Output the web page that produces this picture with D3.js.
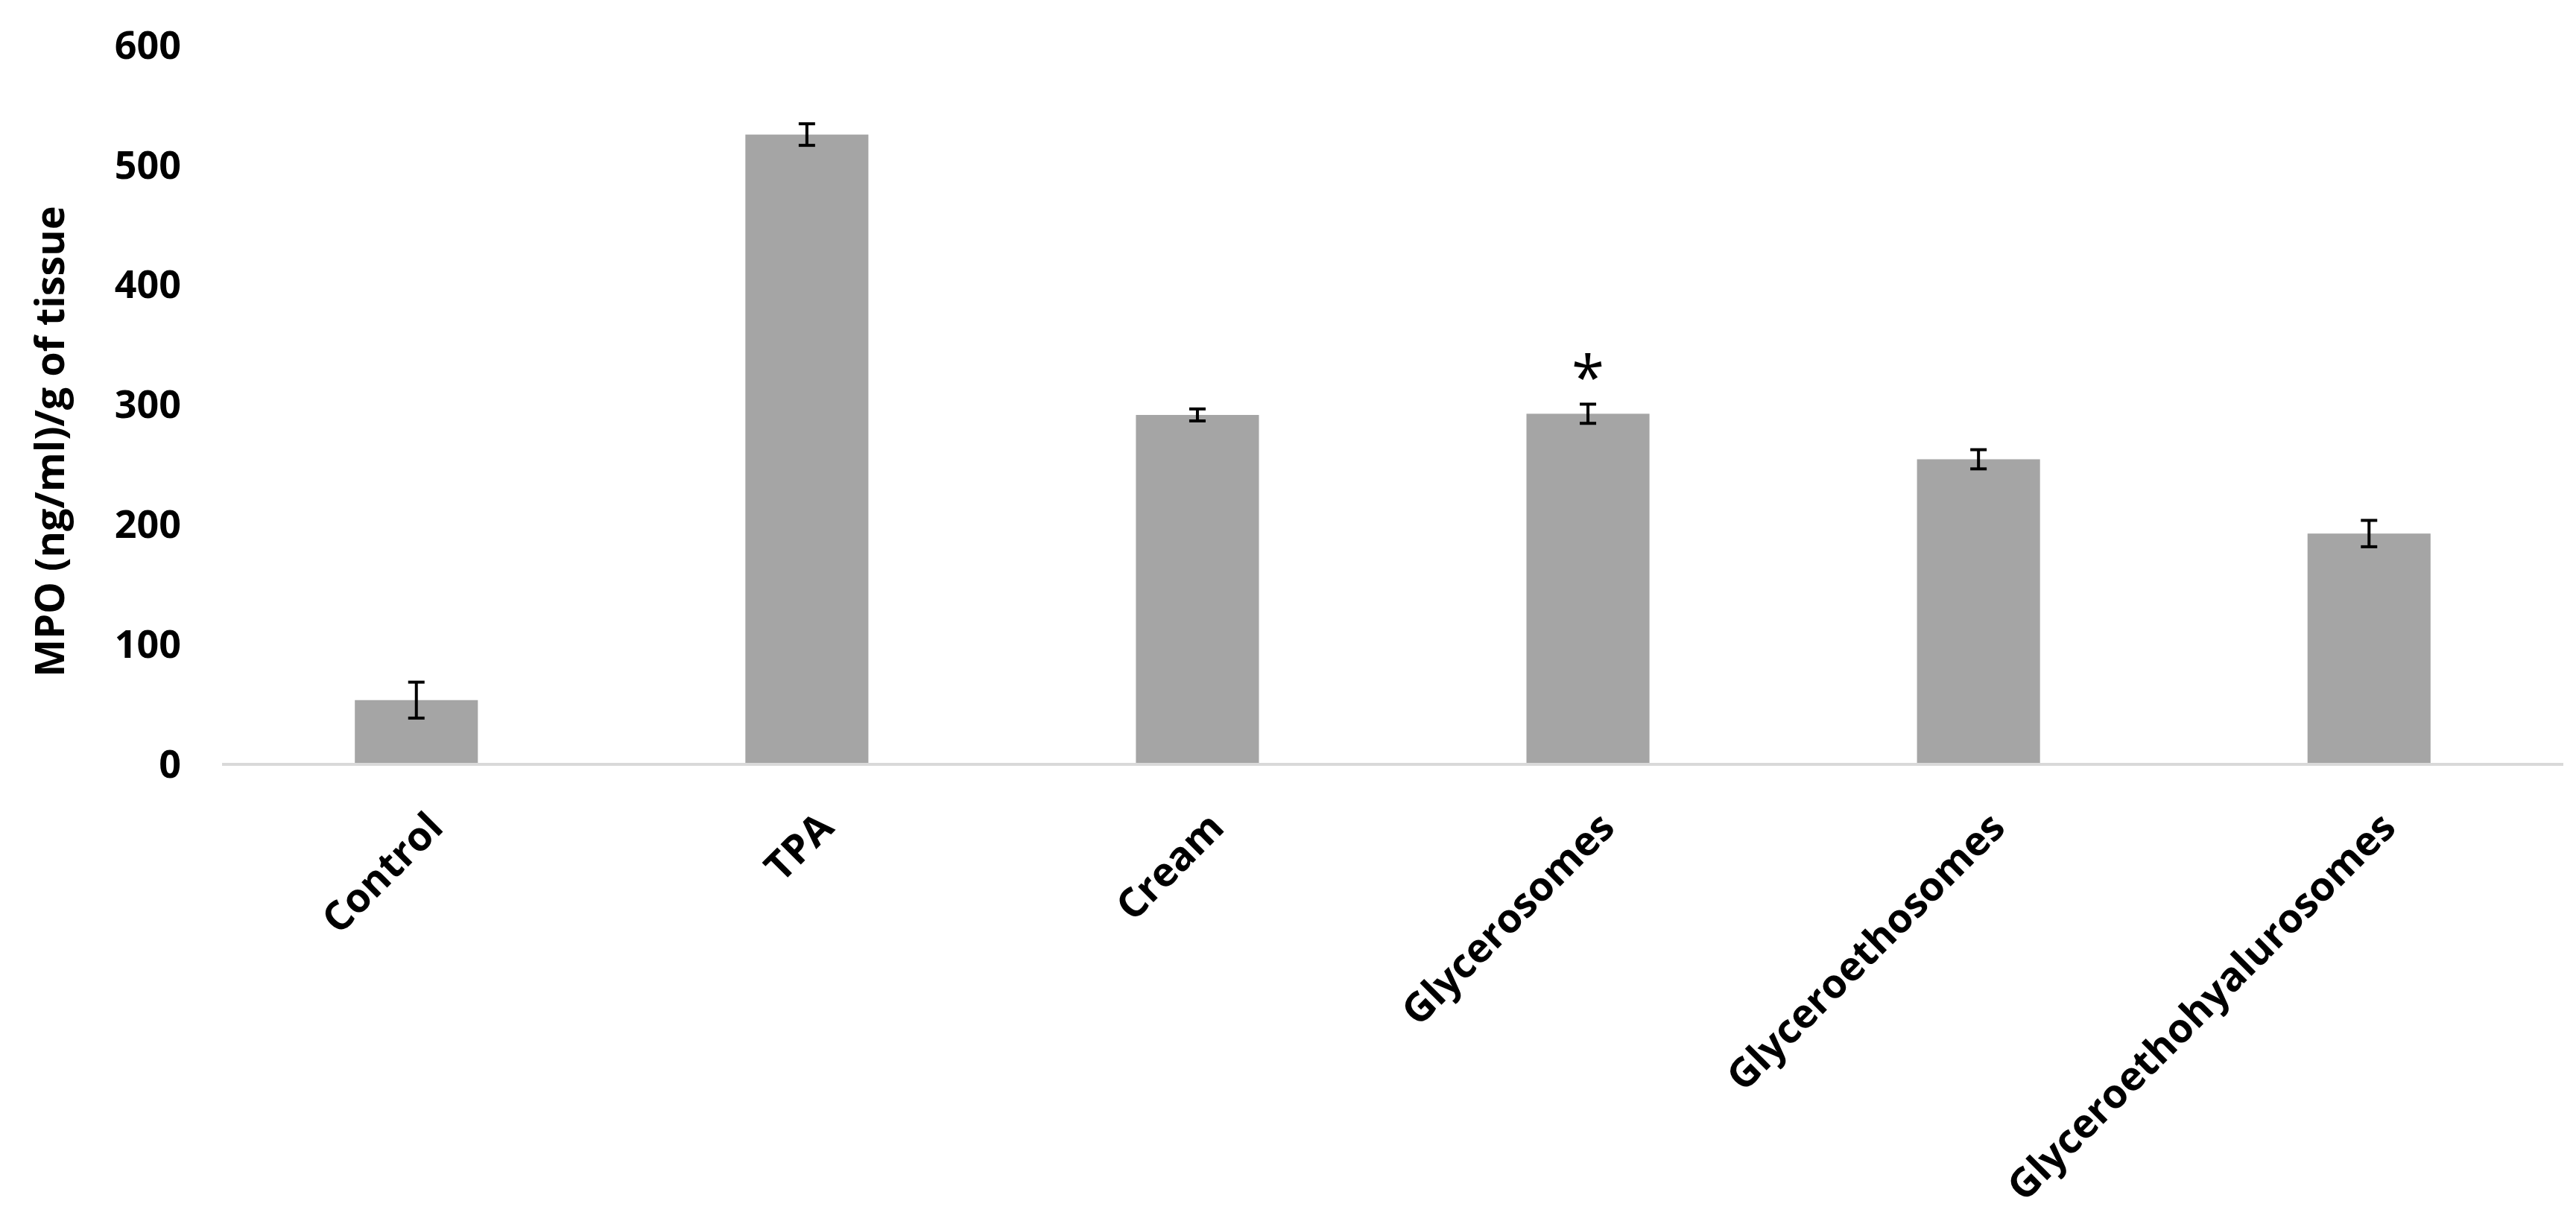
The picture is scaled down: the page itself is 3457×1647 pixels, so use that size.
<!DOCTYPE html>
<html>
<head>
<meta charset="utf-8">
<script src="https://cdn.jsdelivr.net/npm/d3@7"></script>
<style>
  body { margin: 0; background: #fff; }
  text { font-family: "Open Sans", "Noto Sans", sans-serif; font-weight: bold; fill: #000; }
</style>
</head>
<body>
<div id="chart"></div>
<script>
const categories = ["Control", "TPA", "Cream", "Glycerosomes", "Glyceroethosomes", "Glyceroethohyalurosomes"];
const values = [53, 525, 291, 292, 254, 192];
const errors = [15, 9, 5, 8, 8, 11];
const marks = ["", "", "", "*", "", ""];
const yTicks = [0, 100, 200, 300, 400, 500, 600];

const width = 3457, height = 1647;
const x0 = 298, x1 = 3440, yTop = 60, yBottom = 1025;

const svg = d3.select("#chart").append("svg")
    .attr("width", width)
    .attr("height", height);

const x = d3.scaleBand()
    .domain(categories)
    .range([x0, x1])
    .paddingInner(0.685)
    .paddingOuter(0.34);

const y = d3.scaleLinear()
    .domain([0, 600])
    .range([yBottom, yTop]);

// y tick labels (no axis line)
svg.append("g")
    .selectAll("text")
    .data(yTicks)
    .enter()
    .append("text")
    .attr("x", 243)
    .attr("y", d => y(d))
    .attr("dy", "0.36em")
    .attr("text-anchor", "end")
    .style("font-size", "52px")
    .text(d => d);

// bars
svg.append("g")
    .selectAll("rect")
    .data(categories)
    .enter()
    .append("rect")
    .attr("x", d => x(d))
    .attr("width", x.bandwidth())
    .attr("y", (d, i) => y(values[i]))
    .attr("height", (d, i) => y(0) - y(values[i]))
    .attr("fill", "#a5a5a5");

// baseline
svg.append("line")
    .attr("x1", x0).attr("x2", x1)
    .attr("y1", yBottom + 1).attr("y2", yBottom + 1)
    .attr("stroke", "#d9d9d9")
    .attr("stroke-width", 4);

// error bars
const eb = svg.append("g").attr("stroke", "#000").attr("stroke-width", 4);
categories.forEach((c, i) => {
    const cx = x(c) + x.bandwidth() / 2;
    const hi = y(values[i] + errors[i]), lo = y(values[i] - errors[i]);
    eb.append("line").attr("x1", cx).attr("x2", cx).attr("y1", hi).attr("y2", lo);
    eb.append("line").attr("x1", cx - 11).attr("x2", cx + 11).attr("y1", hi).attr("y2", hi);
    eb.append("line").attr("x1", cx - 11).attr("x2", cx + 11).attr("y1", lo).attr("y2", lo);
    if (marks[i]) {
        svg.append("text")
            .attr("x", cx)
            .attr("y", hi - 8)
            .attr("text-anchor", "middle")
            .style("font-size", "80px")
            .style("font-weight", "normal")
            .text(marks[i]);
    }
});

// x labels
svg.append("g")
    .selectAll("text")
    .data(categories)
    .enter()
    .append("text")
    .attr("transform", d => `translate(${x(d) + x.bandwidth() / 2 + 10},${1085}) rotate(-45)`)
    .attr("text-anchor", "end")
    .attr("dy", "0.75em")
    .style("font-size", "54px")
    .text(d => d);

// y title
svg.append("text")
    .attr("transform", `translate(86,${(yTop + yBottom) / 2 + 50}) rotate(-90)`)
    .attr("text-anchor", "middle")
    .style("font-size", "54px")
    .text("MPO (ng/ml)/g of tissue");
</script>
</body>
</html>
